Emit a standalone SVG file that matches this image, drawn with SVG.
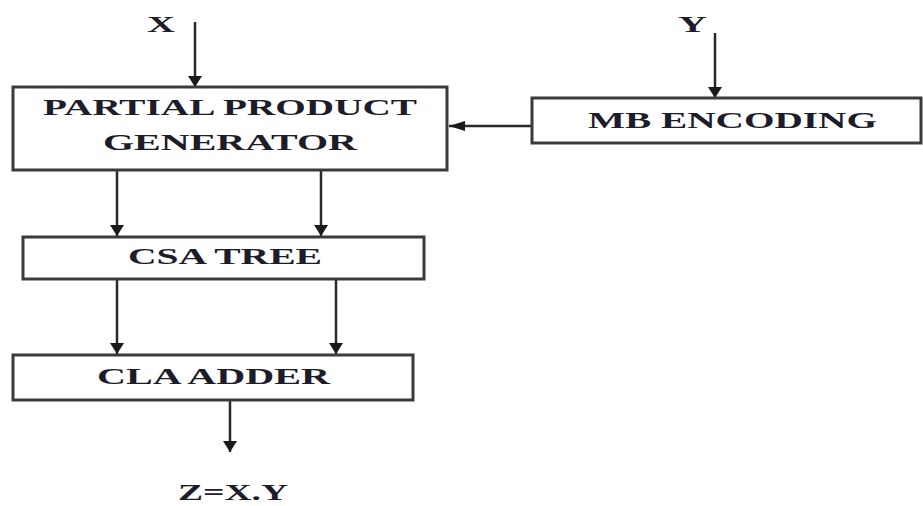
<svg xmlns="http://www.w3.org/2000/svg" width="923" height="506" viewBox="0 0 923 506">
  <style>
    .box { fill: #ffffff; stroke: #3a3a3a; stroke-width: 3; }
    .lbl { font-family: "Liberation Serif", "Times New Roman", serif; font-weight: bold; font-size: 24px; fill: #1c1c2a; }
    .wire { stroke: #2a2a2a; stroke-width: 2.5; fill: none; }
    .down { marker-end: url(#headV); }
    .left { marker-end: url(#headH); }
  </style>
  <defs>
    <marker id="headV" markerUnits="userSpaceOnUse" markerWidth="18" markerHeight="14" refX="11" refY="7" orient="auto">
      <path d="M0,0 L11,7 L0,14 Z" fill="#1a1a1a"/>
    </marker>
    <marker id="headH" markerUnits="userSpaceOnUse" markerWidth="18" markerHeight="10" refX="16" refY="5" orient="auto">
      <path d="M0,0 L16,5 L0,10 Z" fill="#1a1a1a"/>
    </marker>
  </defs>
  <rect width="923" height="506" fill="#ffffff"/>

  <g id="connectors">
    <line class="wire down" x1="195" y1="22" x2="195" y2="87"/>
    <line class="wire down" x1="715" y1="33" x2="715" y2="98"/>
    <line class="wire left" x1="532" y1="126" x2="449" y2="126"/>
    <line class="wire down" x1="117" y1="171" x2="117" y2="236"/>
    <line class="wire down" x1="321" y1="171" x2="321" y2="236"/>
    <line class="wire down" x1="117" y1="280" x2="117" y2="354"/>
    <line class="wire down" x1="336" y1="280" x2="336" y2="354"/>
    <line class="wire down" x1="230" y1="401" x2="230" y2="452"/>
  </g>

  <g id="input-x">
    <text class="lbl" x="147" y="32" textLength="28" lengthAdjust="spacingAndGlyphs">X</text>
  </g>
  <g id="input-y">
    <text class="lbl" x="678" y="32" textLength="29" lengthAdjust="spacingAndGlyphs">Y</text>
  </g>

  <g id="partial-product-generator">
    <rect class="box" x="13" y="87" width="434" height="83"/>
    <text class="lbl" x="43" y="115" textLength="374" lengthAdjust="spacingAndGlyphs">PARTIAL PRODUCT</text>
    <text class="lbl" x="103" y="150" textLength="254" lengthAdjust="spacingAndGlyphs">GENERATOR</text>
  </g>

  <g id="mb-encoding">
    <rect class="box" x="532" y="98" width="389" height="45"/>
    <text class="lbl" x="588" y="128" textLength="289" lengthAdjust="spacingAndGlyphs">MB ENCODING</text>
  </g>

  <g id="csa-tree">
    <rect class="box" x="23" y="237" width="401" height="42"/>
    <text class="lbl" x="128" y="264" textLength="194" lengthAdjust="spacingAndGlyphs">CSA TREE</text>
  </g>

  <g id="cla-adder">
    <rect class="box" x="13" y="355" width="400" height="45"/>
    <text class="lbl" x="97" y="384" textLength="233" lengthAdjust="spacingAndGlyphs">CLA ADDER</text>
  </g>

  <g id="output-z">
    <text class="lbl" x="178" y="500" textLength="110" lengthAdjust="spacingAndGlyphs">Z=X.Y</text>
  </g>
</svg>
